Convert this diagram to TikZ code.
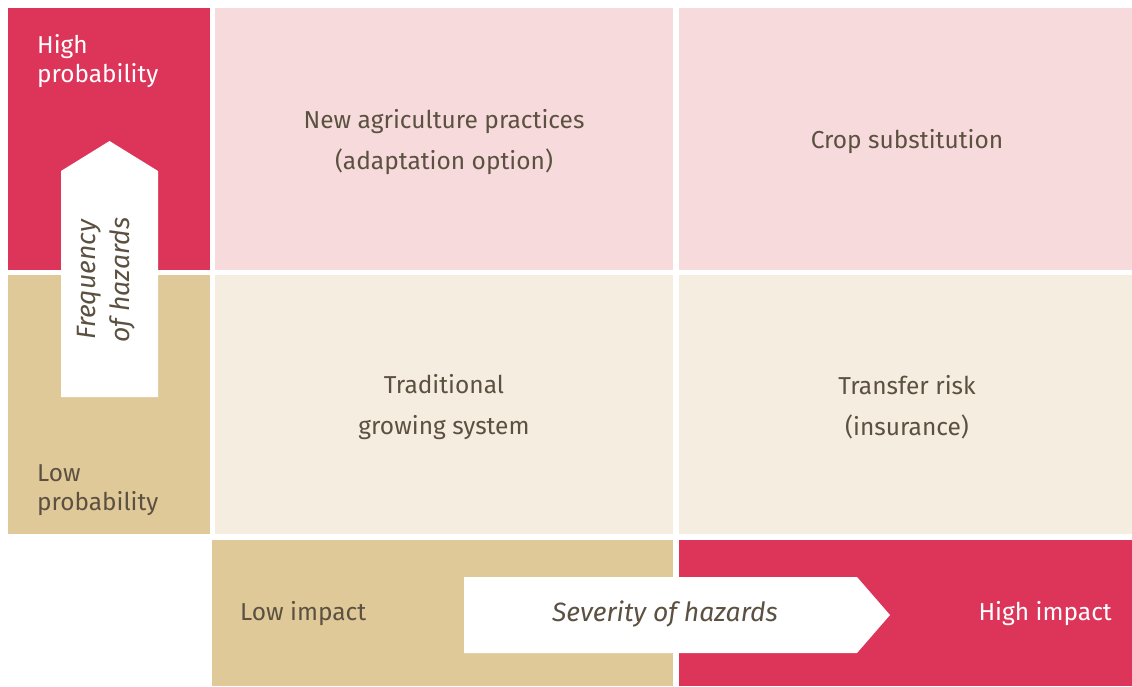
\documentclass[tikz,border=0pt]{standalone}
\usepackage{fontspec}
\setmainfont{Fira Sans}
\definecolor{hred}{HTML}{DD3459}
\definecolor{hpink}{HTML}{F7DBDC}
\definecolor{hbeige}{HTML}{DFC999}
\definecolor{hcream}{HTML}{F5EDE0}
\definecolor{htext}{HTML}{5C5141}
\begin{document}
\begin{tikzpicture}[x=1pt,y=-1pt,
  lbl/.style={text=htext,font=\fontsize{24.5}{41}\selectfont,align=center,inner sep=0pt},
  side/.style={font=\fontsize{24.4}{29}\selectfont,inner sep=0pt,anchor=base west},
  ital/.style={text=htext,font=\fontsize{26.5}{34}\selectfont\itshape,align=center,inner sep=0pt}]
\useasboundingbox (0,0) rectangle (1132,686);
\fill[white] (0,0) rectangle (1132,686);
% left column
\fill[hred] (8,8) rectangle (210,270);
\fill[hbeige] (8,275) rectangle (210,534);
% matrix
\fill[hpink] (215,8) rectangle (673,270);
\fill[hpink] (679,8) rectangle (1132,270);
\fill[hcream] (215,275) rectangle (673,534);
\fill[hcream] (679,275) rectangle (1132,534);
% bottom row
\fill[hbeige] (212,540) rectangle (673,686);
\fill[hred] (679,540) rectangle (1132,686);
% arrows
\fill[white] (61,397) -- (61,171) -- (109.5,141) -- (158,171) -- (158,397) -- cycle;
\fill[white] (464,577) -- (857,577) -- (890,615) -- (857,653) -- (464,653) -- cycle;
% texts
\node[side,text=white] (hp1) at (37,53) {High};
\node[side,text=white] (hp2) at (37,82) {probability};
\node[side,text=htext] (lp1) at (37,481) {Low};
\node[side,text=htext] (lp2) at (37,510) {probability};
\node[lbl] (q1) at (444,142) {New agriculture practices\\(adaptation option)};
\node[lbl] (q2) at (907,142) {Crop substitution};
\node[lbl] (q3) at (444,407) {Traditional\\growing system};
\node[lbl] (q4) at (907,407) {Transfer risk\\(insurance)};
\node[lbl,anchor=west] (li) at (240,614) {Low impact};
\node[lbl,anchor=east,text=white] (hi) at (1112,614) {High impact};
\node[ital] (sev) at (665,614) {Severity of hazards};
\node[ital,rotate=90] (freq) at (106,280) {Frequency\\of hazards};
\end{tikzpicture}
\end{document}
